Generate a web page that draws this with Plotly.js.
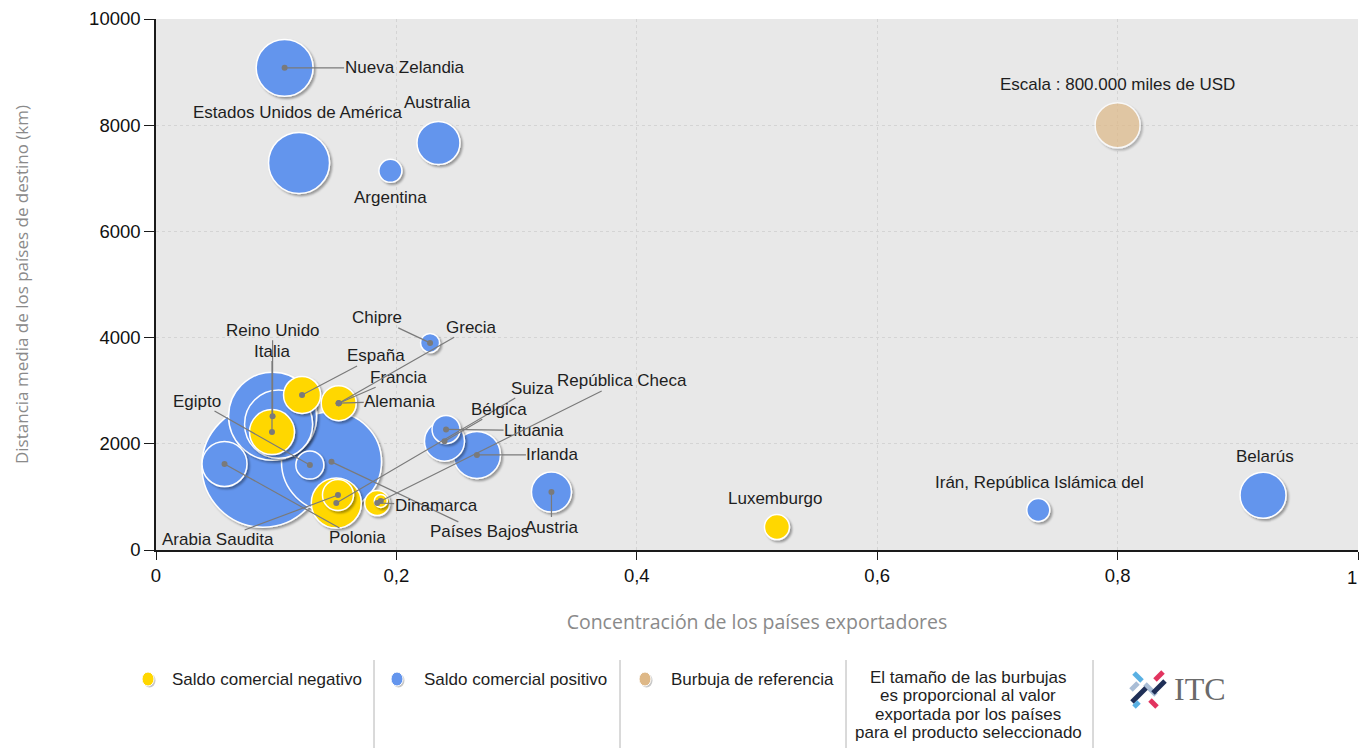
<!DOCTYPE html>
<html>
<head>
<meta charset="utf-8">
<script src="https://cdn.plot.ly/plotly-3.0.1.min.js"></script>
<style>
  html, body { margin: 0; padding: 0; background: #ffffff; }
  #chart { width: 1359px; height: 748px; }
</style>
</head>
<body>
<div id="chart"></div>
<script>
// ---------------- DATA ----------------
const countries = [
  'Francia', 'Países Bajos', 'Reino Unido', 'Grecia', 'Estados Unidos de América',
  'Nueva Zelandia', 'Suiza', 'Irlanda', 'Belarús', 'Polonia', 'Italia', 'Bélgica',
  'Austria', 'Australia', 'España', 'Alemania', 'Arabia Saudita', 'Egipto',
  'Lituania', 'Dinamarca', 'Luxemburgo', 'Argentina', 'Irán, República Islámica del',
  'Chipre', 'República Checa'
];
// Concentración de los países exportadores
const concentration = [
  0.089, 0.146, 0.097, 0.102, 0.119,
  0.107, 0.150, 0.267, 0.921, 0.057, 0.0965, 0.240,
  0.329, 0.235, 0.1215, 0.152, 0.1514, 0.128,
  0.2413, 0.184, 0.5166, 0.195, 0.734,
  0.228, 0.187
];
// Distancia media de los países de destino (km)
const distanceKm = [
  1580, 1660, 2520, 2370, 7290,
  9080, 885, 1790, 1030, 1620, 2220, 2050,
  1090, 7665, 2920, 2765, 1036, 1600,
  2270, 885, 433, 7140, 753,
  3900, 923
];
// Valor exportado (miles de USD)
const exportValue = [
  5900000, 3950000, 3060000, 1830000, 1470000,
  1280000, 988000, 873000, 836000, 800000, 800000, 632000,
  632000, 730000, 541000, 484000, 380000, 310000,
  310000, 247000, 247000, 209000, 209000,
  143000, 67000
];
// Saldo comercial: 'neg' = negativo, 'pos' = positivo
const tradeBalance = [
  'pos', 'pos', 'pos', 'pos', 'pos',
  'pos', 'neg', 'pos', 'pos', 'pos', 'neg', 'pos',
  'pos', 'pos', 'neg', 'neg', 'neg', 'pos',
  'pos', 'neg', 'neg', 'pos', 'pos',
  'pos', 'neg'
];
// Burbuja de referencia
const refLabel = 'Escala : 800.000 miles de USD';
const refConcentration = [0.8];
const refDistance = [8000];
const refValue = [800000];

// Ejes
const xTickVals = [0, 0.2, 0.4, 0.6, 0.8, 1];
const xTickText = ['0', '0,2', '0,4', '0,6', '0,8', '1'];
const yTickVals = [0, 2000, 4000, 6000, 8000, 10000];
const yTickText = ['0', '2000', '4000', '6000', '8000', '10000'];
const xTitle = 'Concentración de los países exportadores';
const yTitle = 'Distancia media de los países de destino (km)';
const legendLabels = ['Saldo comercial negativo', 'Saldo comercial positivo', 'Burbuja de referencia'];
const noteLines = ['El tamaño de las burbujas', 'es proporcional al valor', 'exportada por los países', 'para el producto seleccionado'];

// ---------------- STYLE / LAYOUT ----------------
const COLORS = { neg: '#FFD700', pos: '#6495ED', ref: '#DEB887' };
const FONT = 'Liberation Sans, Arial, sans-serif';
const TXT = '#1e1e1e';
const SIZEREF = 790; // area scaling

// label placements (pixel offsets), kept separate from the data
const labelPos = {
  'Nueva Zelandia': { ax: 120, ay: 0 },
  'Argentina': { ax: 0, ay: 27 },
  'Chipre': { ax: -53, ay: -25 },
  'Grecia': { ax: 133, ay: -76, target: 'Alemania' },
  'Reino Unido': { ax: 0, ay: -86 },
  'Italia': { ax: 0, ay: -81 },
  'España': { ax: 74, ay: -39 },
  'Francia': { ax: 60, ay: -26, target: 'Alemania' },
  'Alemania': { ax: 61, ay: -2 },
  'Egipto': { ax: -113, ay: -64 },
  'Suiza': { ax: 196, ay: -115 },
  'República Checa': { ax: 241, ay: -120 },
  'Bélgica': { ax: 55, ay: -32 },
  'Lituania': { ax: 88, ay: 1 },
  'Irlanda': { ax: 76, ay: 0 },
  'Dinamarca': { ax: 59, ay: 2 },
  'Países Bajos': { ax: 148, ay: 70 },
  'Austria': { ax: 0, ay: 35 },
  'Arabia Saudita': { ax: -120, ay: 45 },
  'Polonia': { ax: 133, ay: 74 },
  'Estados Unidos de América': { dx: -2, dy: 50 },
  'Australia': { dx: -1, dy: 40 },
  'Luxemburgo': { dx: -1, dy: 29 },
  'Irán, República Islámica del': { dx: 1, dy: 28 },
  'Belarús': { dx: 2, dy: 39 }
};

// plot area geometry (pixels)
const L = 156, R = 1358, T = 19, B = 550;
const W = R - L, H = B - T;
const px = v => (v - L) / W;         // pixel x -> paper
const py = v => (B - v) / H;         // pixel y -> paper

// ---------------- TRACES ----------------
const idx = countries.map((_, i) => i).sort((a, b) => exportValue[b] - exportValue[a]);
const bubbles = {
  type: 'scatter', mode: 'markers',
  x: idx.map(i => concentration[i]),
  y: idx.map(i => distanceKm[i]),
  text: idx.map(i => countries[i]),
  hoverinfo: 'text',
  marker: {
    size: idx.map(i => exportValue[i]),
    sizemode: 'area', sizeref: SIZEREF,
    color: idx.map(i => COLORS[tradeBalance[i]]),
    opacity: 1,
    line: { color: '#ffffff', width: 1.5 }
  },
  showlegend: false, cliponaxis: false
};
const refTrace = {
  type: 'scatter', mode: 'markers',
  x: refConcentration, y: refDistance, text: [refLabel], hoverinfo: 'text',
  marker: { size: refValue, sizemode: 'area', sizeref: SIZEREF, color: COLORS.ref,
            line: { color: '#ffffff', width: 1.5 } },
  showlegend: false
};

// ---------------- ANNOTATIONS ----------------
const annotations = [];
countries.forEach((name, i) => {
  const p = labelPos[name];
  if (!p) return;
  const font = { family: FONT, size: 17, color: TXT };
  if (p.ax !== undefined) {
    const t = p.target ? countries.indexOf(p.target) : i;
    annotations.push({
      x: concentration[t], y: distanceKm[t], xref: 'x', yref: 'y',
      text: name, showarrow: true, ax: p.ax, ay: p.ay,
      arrowhead: 6, arrowsize: 1.25, arrowwidth: 1.2, arrowcolor: '#7a7a7a',
      standoff: 0, startstandoff: 0, font: font, borderpad: 0
    });
  } else {
    annotations.push({
      x: concentration[i], y: distanceKm[i], xref: 'x', yref: 'y',
      text: name, showarrow: false, xshift: p.dx, yshift: p.dy, font: font
    });
  }
});
annotations.push({
  x: refConcentration[0], y: refDistance[0], xref: 'x', yref: 'y',
  text: refLabel, showarrow: false, yshift: 41, font: { family: FONT, size: 17, color: TXT }
});

// last x tick label, kept inside the page (right-aligned at its tick)
const lastTick = xTickVals.length - 1;
annotations.push({
  x: xTickVals[lastTick], y: 0, xref: 'x', yref: 'paper',
  xanchor: 'right', yanchor: 'top', yshift: -15, xshift: 1,
  text: xTickText[lastTick], showarrow: false,
  font: { family: FONT, size: 18.5, color: '#111111' }
});

// legend texts
const legendTextX = [170, 422, 669];
legendLabels.forEach((t, k) => {
  annotations.push({
    x: px(legendTextX[k]), y: py(679), xref: 'paper', yref: 'paper',
    xanchor: 'left', yanchor: 'middle', text: t, showarrow: false,
    font: { family: FONT, size: 17, color: TXT }
  });
});
const noteY = [677, 695.5, 714, 732.5];
noteLines.forEach((t, k) => {
  annotations.push({
    x: px(968), y: py(noteY[k]), xref: 'paper', yref: 'paper',
    xanchor: 'center', yanchor: 'middle', text: t, showarrow: false,
    font: { family: FONT, size: 17, color: TXT }
  });
});
// ITC text
annotations.push({
  x: px(1172), y: py(689), xref: 'paper', yref: 'paper', xanchor: 'left', yanchor: 'middle',
  text: 'ITC', showarrow: false,
  font: { family: 'Liberation Serif, DejaVu Serif, serif', size: 32, color: '#6a6a6a' }
});

// ---------------- SHAPES ----------------
const shapes = [];
[374, 620, 846, 1093].forEach(xv => {
  shapes.push({ type: 'line', xref: 'paper', yref: 'paper',
    x0: px(xv), x1: px(xv), y0: py(660), y1: py(748),
    line: { color: '#b4b4b4', width: 1 } });
});
// legend markers
const legendMarkX = [148, 397, 645];
const legendMarkC = [COLORS.neg, COLORS.pos, COLORS.ref];
legendMarkX.forEach((xv, k) => {
  shapes.push({ type: 'circle', xref: 'paper', yref: 'paper',
    xsizemode: 'pixel', ysizemode: 'pixel', xanchor: px(xv + 1.5), yanchor: py(680.5),
    x0: -6, x1: 6, y0: -7, y1: 7, fillcolor: 'rgba(0,0,0,0.22)', line: { width: 0 } });
  shapes.push({ type: 'circle', xref: 'paper', yref: 'paper',
    xsizemode: 'pixel', ysizemode: 'pixel', xanchor: px(xv), yanchor: py(679),
    x0: -6, x1: 6, y0: -7, y1: 7, fillcolor: legendMarkC[k], line: { color: '#ffffff', width: 1 } });
});
// ITC logo bars
const bar = (x0, y0, x1, y1, c) => shapes.push({ type: 'line', xref: 'paper', yref: 'paper',
  x0: px(x0), y0: py(y0), x1: px(x1), y1: py(y1), line: { color: c, width: 5 } });
bar(1134, 673, 1142, 681, '#59b0e3');
bar(1145, 684, 1156, 695, '#a9bdd6');
bar(1150, 700, 1157, 707, '#e2345f');
bar(1163, 672, 1155, 680, '#e2345f');
bar(1165, 681, 1153, 693, '#1f2f57');
bar(1146, 688, 1132, 702, '#1f2f57');
bar(1139, 702, 1134, 707, '#59b0e3');
bar(1138, 683, 1131, 690, '#a9bdd6');

// ---------------- LAYOUT ----------------
const layout = {
  width: 1359, height: 748,
  margin: { l: L, r: 1359 - R, t: T, b: 748 - B, pad: 0 },
  paper_bgcolor: '#ffffff', plot_bgcolor: '#e8e8e8',
  showlegend: false,
  hovermode: 'closest',
  xaxis: {
    range: [0, 1], tickmode: 'array', tickvals: xTickVals,
    ticktext: xTickText.map((t, k) => k === lastTick ? '' : t), fixedrange: true,
    showline: true, linecolor: '#1a1a1a', linewidth: 1.5,
    ticks: 'outside', ticklen: 8, tickcolor: '#1a1a1a', tickwidth: 1,
    showgrid: true, gridcolor: '#d4d4d4', griddash: 'dot', gridwidth: 1,
    zeroline: false,
    tickfont: { family: FONT, size: 18.5, color: '#111111' },
    title: { text: xTitle, standoff: 30,
             font: { family: 'Open Sans, DejaVu Sans, sans-serif', size: 19.5, color: '#8a8a8a' } }
  },
  yaxis: {
    range: [0, 10000], tickmode: 'array', tickvals: yTickVals, ticktext: yTickText, fixedrange: true,
    showline: true, linecolor: '#1a1a1a', linewidth: 1.5,
    ticks: 'outside', ticklen: 10, tickcolor: '#1a1a1a', tickwidth: 1,
    showgrid: true, gridcolor: '#d4d4d4', griddash: 'dot', gridwidth: 1,
    zeroline: false,
    tickfont: { family: FONT, size: 18.5, color: '#111111' },
    title: { text: yTitle, standoff: 56,
             font: { family: 'Open Sans, DejaVu Sans, sans-serif', size: 17, color: '#8a8a8a' } }
  },
  annotations: annotations,
  shapes: shapes
};

Plotly.newPlot('chart', [bubbles, refTrace], layout, { displayModeBar: false })
  .then(gd => {
    const svg = gd.querySelector('.main-svg');
    const defs = svg.querySelector('defs');
    const NS = 'http://www.w3.org/2000/svg';
    const f = document.createElementNS(NS, 'filter');
    f.setAttribute('id', 'bubshadow');
    f.setAttribute('x', '-30%'); f.setAttribute('y', '-30%');
    f.setAttribute('width', '170%'); f.setAttribute('height', '170%');
    const ds = document.createElementNS(NS, 'feDropShadow');
    ds.setAttribute('dx', '2'); ds.setAttribute('dy', '2');
    ds.setAttribute('stdDeviation', '1.2');
    ds.setAttribute('flood-color', '#000000'); ds.setAttribute('flood-opacity', '0.35');
    f.appendChild(ds); defs.appendChild(f);
    gd.querySelectorAll('.scatterlayer .trace path.point').forEach(p => p.setAttribute('filter', 'url(#bubshadow)'));
  });
</script>
</body>
</html>
